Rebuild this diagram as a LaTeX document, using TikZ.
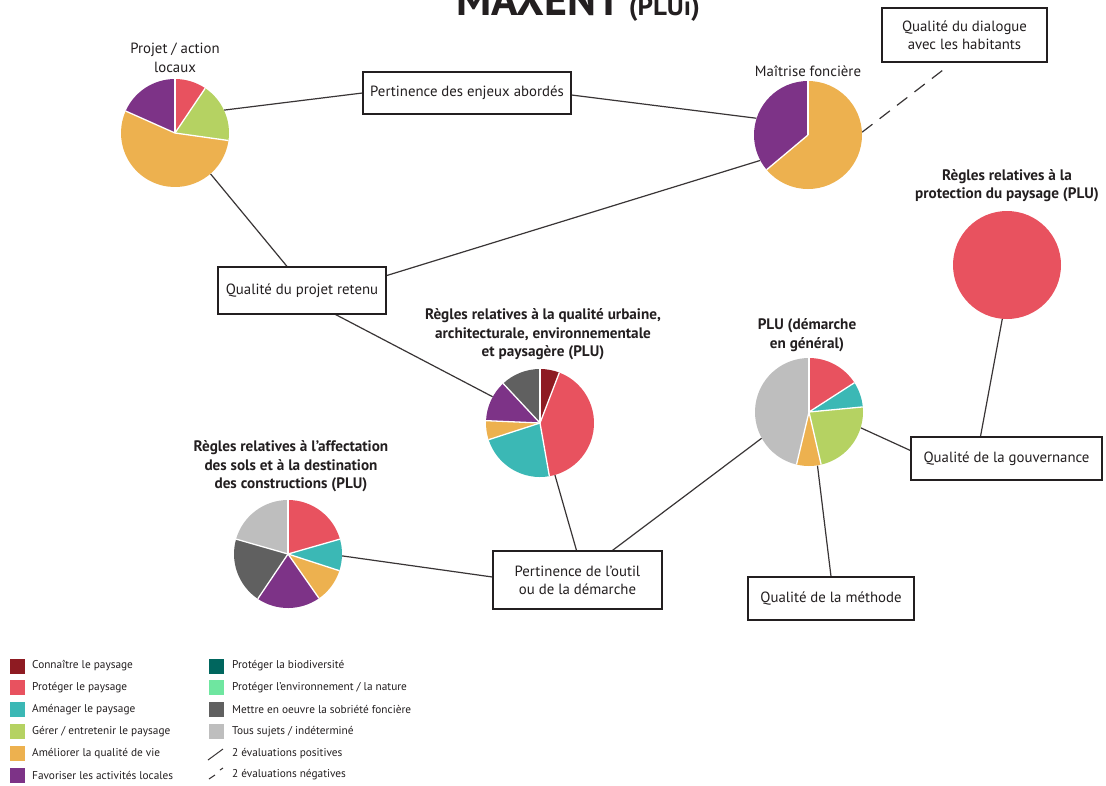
\documentclass[tikz,border=0pt]{standalone}
\usepackage{fontspec}
\setmainfont{PT Sans}
\usetikzlibrary{calc}
\definecolor{cdred}{HTML}{8E1B22}
\definecolor{cred}{HTML}{E8525F}
\definecolor{cteal}{HTML}{3BB8B5}
\definecolor{cgreen}{HTML}{B5D262}
\definecolor{corange}{HTML}{EDB14F}
\definecolor{cpurple}{HTML}{7D3387}
\definecolor{cdteal}{HTML}{00665E}
\definecolor{clgreen}{HTML}{6FE6A0}
\definecolor{cdgray}{HTML}{606060}
\definecolor{clgray}{HTML}{BEBEBE}
\definecolor{ctext}{HTML}{231F20}
\newcommand\drawpie[3]{%
  \foreach \a/\b/\c in {#2}{\fill[\c] (#1.center) -- ++(\a:54pt) arc[start angle=\a, end angle=\b, radius=54pt] -- cycle;}
  \foreach \a in {#3}{\draw[white, line width=1.3pt] (#1.center) -- ++(\a:54pt);}
}
\begin{document}
\begin{tikzpicture}[x=1pt,y=-1pt,
  pie/.style={circle, minimum size=108pt, inner sep=0pt},
  box/.style={draw=ctext, line width=1.2pt, fill=white, align=center, inner sep=0pt, text=ctext,
    font=\fontsize{14.8}{18}\selectfont},
  conn/.style={draw=ctext!90, line width=1.2pt},
  lab/.style={align=center, text=ctext, font=\fontsize{14.8}{18.5}\selectfont},
  blab/.style={lab, font=\fontsize{15.2}{18.5}\selectfont\bfseries},
  legsq/.style={minimum size=15pt, inner sep=0pt},
  legtx/.style={anchor=west, text=ctext, font=\fontsize{11.3}{13}\selectfont, inner sep=0pt}]
\useasboundingbox (0,0) rectangle (1106,785);
\clip (0,0) rectangle (1106,785);
\fill[white] (0,0) rectangle (1106,785);

% title (cut off at the top edge, as in the reference)
\node[anchor=base west, inner sep=0pt, text=ctext, font=\fontsize{44}{44}\selectfont\bfseries] (title) at (456,15) {MAXENT\,\fontsize{27}{27}\selectfont(PLUi)};

% pies
\node[pie] (p1) at (175,133) {};
\node[pie] (p2) at (808,135) {};
\node[pie] (p3) at (540,423) {};
\node[pie] (p4) at (809,412) {};
\node[pie] (p5) at (288,554) {};
\node[pie, fill=cred] (p6) at (1007,265) {};

% boxes
\node[box, minimum width=208pt, minimum height=42pt] (b1) at (467,93) {Pertinence des enjeux abordés};
\node[box, minimum width=165pt, minimum height=54pt] (dia) at (964.5,35) {Qualité du dialogue\\avec les habitants};
\node[box, minimum width=168pt, minimum height=47pt] (qpr) at (302,290.5) {Qualité du projet retenu};
\node[box, minimum width=191pt, minimum height=43pt] (gouv) at (1006.5,458.5) {Qualité de la gouvernance};
\node[box, minimum width=169pt, minimum height=58pt] (outil) at (577.5,580) {Pertinence de l’outil\\ou de la démarche};
\node[box, minimum width=166pt, minimum height=43pt] (meth) at (831,598.5) {Qualité de la méthode};

% connectors
\coordinate (dend) at (943,70);
\draw[conn] (p1.25) -- ($(b1.west)+(0,0)$);
\draw[conn] ($(b1.east)+(0,2)$) -- (p2.162);
\draw[conn] (p1.-49) -- ($(qpr.north)+(-15,0)$);
\draw[conn] ($(qpr.east)+(-29,-6)$) -- (p2.208);
\draw[conn] ($(qpr.south)+(28,-3)$) -- (p3.151);
\draw[conn, dash pattern=on 13pt off 9pt] (p2.3) -- (dend);
\draw[conn] (p3.-74) -- ($(outil.north)+(-1,0)$);
\draw[conn] (p5.-2) -- ($(outil.west)+(0,-3)$);
\draw[conn] ($(outil.north)+(35,0)$) -- (p4.209);
\draw[conn] (p4.-81) -- (meth.north);
\draw[conn] (p4.-17) -- ($(gouv.west)+(0,-8)$);
\draw[conn] (p6.-95) -- ($(gouv.north)+(-26,0)$);

% redraw boxes over lines
\node[box, minimum width=208pt, minimum height=42pt] at (b1) {Pertinence des enjeux abordés};
\node[box, minimum width=168pt, minimum height=47pt] at (qpr) {Qualité du projet retenu};
\node[box, minimum width=191pt, minimum height=43pt] at (gouv) {Qualité de la gouvernance};
\node[box, minimum width=169pt, minimum height=58pt] at (outil) {Pertinence de l’outil\\ou de la démarche};
\node[box, minimum width=166pt, minimum height=43pt] at (meth) {Qualité de la méthode};

% pie slices
\drawpie{p1}{90/56/cred, 56/-8/cgreen, -8/-204/corange, 156/90/cpurple}{90,56,-8,156}
\drawpie{p2}{90/220/cpurple, 90/-140/corange}{90,220}
\drawpie{p3}{90/69/cdred, 69/-80/cred, -80/-162/cteal, -162/-182.5/corange, 177.5/133/cpurple, 133/90/cdgray}{90,69,-80,-162,177.5,133}
\drawpie{p4}{90/32.8/cred, 32.8/5.4/cteal, 5.4/-77/cgreen, -77/-103.4/corange, -103.4/-270/clgray}{90,32.8,5.4,-77,-103.4}
\drawpie{p5}{90/16/cred, 16/-18/cteal, -18/-55/corange, -55/-124/cpurple, -124/-196/cdgray, 164/90/clgray}{90,16,-18,-55,-124,164}

% pie labels
\node[lab] (l1) at (175,58) {Projet / action\\locaux};
\node[lab] (l2) at (808,71) {Maîtrise foncière};
\node[blab] (l6) at (1007,185.5) {Règles relatives à la\\protection du paysage (PLU)};
\node[blab] (l3) at (543,334.5) {Règles relatives à la qualité urbaine,\\architecturale, environnementale\\et paysagère (PLU)};
\node[blab] (l4) at (807,335) {PLU (démarche\\en général)};
\node[blab] (l5) at (291,466.5) {Règles relatives à l’affectation\\des sols et à la destination\\des constructions (PLU)};

% legend
\foreach \c/\t [count=\i from 0] in {cdred/{Connaître le paysage}, cred/{Protéger le paysage}, cteal/{Aménager le paysage}, cgreen/{Gérer / entretenir le paysage}, corange/{Améliorer la qualité de vie}, cpurple/{Favoriser les activités locales}}{
  \node[legsq, fill=\c] (lsa\i) at (17.5,666+21.8*\i) {};
  \node[legtx] (lta\i) at (32,666+21.8*\i) {\t};
}
\foreach \c/\t [count=\i from 0] in {cdteal/{Protéger la biodiversité}, clgreen/{Protéger l’environnement / la nature}, cdgray/{Mettre en oeuvre la sobriété foncière}, clgray/{Tous sujets / indéterminé}}{
  \node[legsq, fill=\c] (lsb\i) at (216,666+21.8*\i) {};
  \node[legtx] (ltb\i) at (232,666+21.8*\i) {\t};
}
\coordinate (lp1) at (208,760);
\coordinate (lp2) at (223,749);
\draw[conn, line width=1pt] (lp1) -- (lp2);
\node[legtx] (ltb4) at (232,753.2) {2 évaluations positives};
\coordinate (ln1) at (209,779);
\coordinate (ln2) at (215,775);
\coordinate (ln3) at (220,770);
\coordinate (ln4) at (223,768);
\draw[conn, line width=1pt] (ln1) -- (ln2);
\draw[conn, line width=1pt] (ln3) -- (ln4);
\node[legtx] (ltb5) at (232,775) {2 évaluations négatives};
\end{tikzpicture}
\end{document}
